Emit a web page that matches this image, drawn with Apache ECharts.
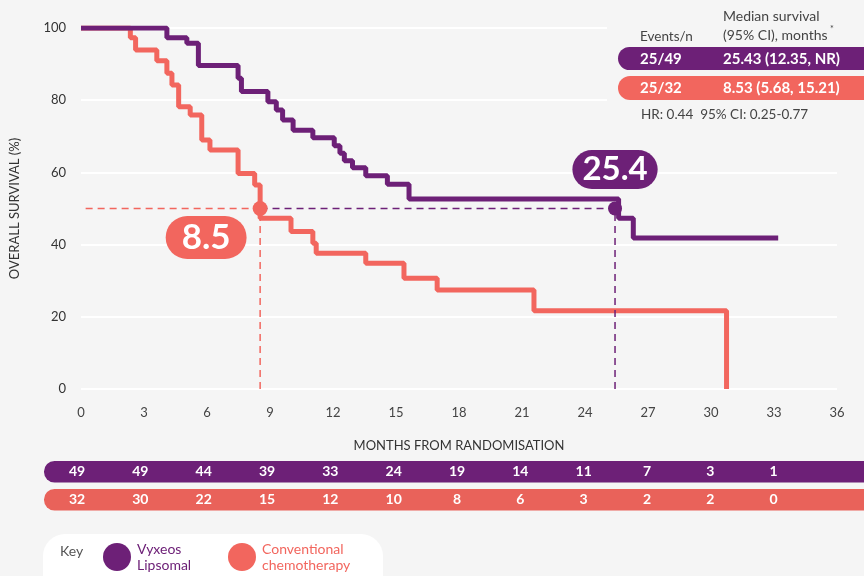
<!DOCTYPE html>
<html>
<head>
<meta charset="utf-8">
<script src="https://cdn.jsdelivr.net/npm/echarts@6/dist/echarts.min.js"></script>
<style>
  html, body { margin: 0; padding: 0; background: #f5f5f5; }
  #chart { width: 864px; height: 576px; }
</style>
</head>
<body>
<div id="chart"></div>
<script>
// Kaplan-Meier steps (months, % surviving)
const vyxeosTimes = [0, 4.09, 5.04, 5.59, 7.48, 7.64, 8.9, 9.3, 9.6, 10.1, 11.04, 12.06, 12.33, 12.54, 12.93, 13.56, 14.59, 15.62, 25.6, 26.3, 33.2]
const vyxeosSurv = [100, 97.3, 95.8, 89.6, 86.1, 82.4, 79.6, 77.3, 74.5, 71.7, 69.6, 67.4, 65.3, 63.2, 61.3, 59.1, 56.7, 52.6, 47.3, 41.8, 41.8]

const chemoTimes = [0, 2.35, 2.6, 3.61, 4.09, 4.33, 4.65, 5.2, 5.75, 6.14, 7.48, 8.27, 8.53, 10.0, 11.04, 11.2, 13.56, 15.38, 16.96, 21.57, 30.74]
const chemoSurv = [100, 97.3, 93.9, 90.9, 87.5, 84.2, 78.2, 75.9, 69.0, 66.2, 59.7, 56.5, 47.3, 43.6, 40.4, 37.6, 34.8, 30.7, 27.4, 21.7, 0]

// medians
const medianVyxeos = 25.43
const medianChemo = 8.53
const medianLabels = ['25.4', '8.5']

// numbers at risk
const riskTimes = [0, 3, 6, 9, 12, 15, 18, 21, 24, 27, 30, 33]
const riskVyxeos = [49, 49, 44, 39, 33, 24, 19, 14, 11, 7, 3, 1]
const riskChemo = [32, 30, 22, 15, 12, 10, 8, 6, 3, 2, 2, 0]

const PURPLE = '#6d2077'
const RED = '#f2665e'
const RED_ROW = '#e9625a'
const FONT = 'Lato'

const chart = echarts.init(document.getElementById('chart'))

const zip = (a, b) => a.map((v, i) => [v, b[i]])
const riskData = arr => riskTimes.map((t, i) => [t, 0, arr[i]])

const riskSeries = (arr, idx) => ({
  type: 'scatter',
  xAxisIndex: idx,
  yAxisIndex: idx,
  data: riskData(arr),
  symbolSize: 1,
  itemStyle: { color: 'transparent', opacity: 1 },
  silent: true,
  z: 5,
  label: {
    show: true,
    position: 'inside',
    formatter: p => p.value[2],
    color: '#fff',
    fontWeight: 'bold',
    fontSize: 14,
    fontFamily: FONT
  }
})

const hiddenX = idx => ({ gridIndex: idx, type: 'value', min: 0, max: 36, show: false })
const hiddenY = idx => ({ gridIndex: idx, type: 'value', min: -1, max: 1, show: false })

const keyLegend = (left, name, color) => ({
  left: left, top: 536,
  icon: 'circle', itemWidth: 28, itemHeight: 28,
  selectedMode: false,
  textStyle: { fontSize: 14, lineHeight: 16, fontFamily: FONT, padding: [0, 0, 0, 1] },
  data: [{ name: name, textStyle: { color: color } }]
})

const txt = (x, y, text, size, opts) => ({
  type: 'text', z: 3, x: x, y: y,
  style: Object.assign({ text: text, fill: '#444', fontSize: size, fontFamily: FONT, verticalAlign: 'middle' }, opts || {})
})

const option = {
  backgroundColor: '#f5f5f5',
  animation: false,
  textStyle: { fontFamily: FONT },
  grid: [
    { left: 77, right: 27, top: 28, height: 361 },
    { left: 77, right: 27, top: 461, height: 21 },
    { left: 77, right: 27, top: 489, height: 21 }
  ],
  legend: [
    keyLegend(98, 'Vyxeos\nLipsomal', PURPLE),
    keyLegend(223, 'Conventional\nchemotherapy', RED)
  ],
  xAxis: [
    {
      gridIndex: 0, type: 'value', min: 0, max: 36, interval: 3,
      name: 'MONTHS FROM RANDOMISATION', nameLocation: 'middle', nameGap: 50,
      nameTextStyle: { color: '#333', fontSize: 13, fontFamily: FONT },
      axisLine: { show: false }, axisTick: { show: false },
      splitLine: { show: false },
      axisLabel: { color: '#444', fontSize: 13, margin: 17, fontFamily: FONT }
    },
    hiddenX(1), hiddenX(2)
  ],
  yAxis: [
    {
      gridIndex: 0, type: 'value', min: 0, max: 100, interval: 20,
      name: 'OVERALL SURVIVAL (%)', nameLocation: 'middle', nameGap: 60, nameRotate: 90,
      nameTextStyle: { color: '#333', fontSize: 13, fontFamily: FONT },
      axisLine: { show: false }, axisTick: { show: false },
      splitLine: { lineStyle: { color: '#ffffff', width: 2 } },
      axisLabel: { color: '#333', fontSize: 13, margin: 15, fontFamily: FONT }
    },
    hiddenY(1), hiddenY(2)
  ],
  series: [
    {
      name: 'Conventional\nchemotherapy',
      type: 'line', step: 'end', showSymbol: false,
      data: zip(chemoTimes, chemoSurv),
      lineStyle: { color: RED, width: 5 },
      itemStyle: { color: RED },
      z: 3
    },
    {
      name: 'Vyxeos\nLipsomal',
      type: 'line', step: 'end', showSymbol: false,
      data: zip(vyxeosTimes, vyxeosSurv),
      lineStyle: { color: PURPLE, width: 5 },
      itemStyle: { color: PURPLE },
      z: 4
    },
    {
      // purple median guides
      type: 'line', showSymbol: false, silent: true,
      data: [[medianVyxeos, 0], [medianVyxeos, 50], [medianChemo, 50]],
      lineStyle: { color: PURPLE, width: 1.5, type: [7, 5] },
      z: 5
    },
    {
      // red median guides
      type: 'line', showSymbol: false, silent: true,
      data: [[medianChemo, 0], [medianChemo, 50], [0, 50]],
      lineStyle: { color: RED, width: 1.5, type: [7, 5] },
      z: 5
    },
    {
      type: 'scatter', silent: true, z: 6,
      data: [[medianVyxeos, 50]],
      symbolSize: 14,
      itemStyle: { color: PURPLE, opacity: 1 },
      label: {
        show: true, position: 'inside', offset: [0, -39],
        formatter: medianLabels[0],
        color: '#fff', fontSize: 33, fontWeight: 'bold', fontFamily: FONT,
        backgroundColor: PURPLE, borderRadius: 20, padding: [3, 10, 3, 10]
      }
    },
    {
      type: 'scatter', silent: true, z: 6,
      data: [[medianChemo, 50]],
      symbolSize: 15,
      itemStyle: { color: RED, opacity: 1 },
      label: {
        show: true, position: 'inside', offset: [-54, 29],
        formatter: medianLabels[1],
        color: '#fff', fontSize: 35, fontWeight: 'bold', fontFamily: FONT,
        backgroundColor: RED, borderRadius: 22, padding: [4, 16, 4, 16]
      }
    },
    riskSeries(riskVyxeos, 1),
    riskSeries(riskChemo, 2)
  ],
  graphic: [
    // cover behind the median table
    { type: 'rect', z: 1, shape: { x: 607, y: 0, width: 257, height: 130 }, style: { fill: '#f5f5f5' } },
    txt(640, 37, 'Events/n', 13.5),
    txt(723, 16, 'Median survival', 14),
    txt(723, 35, '(95% CI), months', 14),
    txt(830, 29, '*', 9),
    { type: 'rect', z: 2, shape: { x: 618, y: 47, width: 260, height: 23, r: 11.5 }, style: { fill: PURPLE } },
    { type: 'rect', z: 2, shape: { x: 618, y: 76, width: 260, height: 24, r: 12 }, style: { fill: RED } },
    txt(640, 59, '25/49', 15, { fill: '#fff', fontWeight: 'bold' }),
    txt(723, 59, '25.43 (12.35, NR)', 15, { fill: '#fff', fontWeight: 'bold' }),
    txt(640, 88, '25/32', 15, { fill: '#fff', fontWeight: 'bold' }),
    txt(723, 88, '8.53 (5.68, 15.21)', 15, { fill: '#fff', fontWeight: 'bold' }),
    txt(641, 115, 'HR: 0.44  95% CI: 0.25-0.77', 13.5),
    // number-at-risk pills
    { type: 'rect', z: 1, shape: { x: 44, y: 461, width: 840, height: 21.5, r: 10.5 }, style: { fill: PURPLE } },
    { type: 'rect', z: 1, shape: { x: 44, y: 489, width: 840, height: 21.5, r: 10.5 }, style: { fill: RED_ROW } },
    // key box
    { type: 'rect', z: 0, shape: { x: 43, y: 534, width: 340, height: 62, r: 22 }, style: { fill: '#ffffff' } },
    txt(60, 551, 'Key', 14, { fill: '#555' })
  ]
}

chart.setOption(option)
</script>
</body>
</html>
